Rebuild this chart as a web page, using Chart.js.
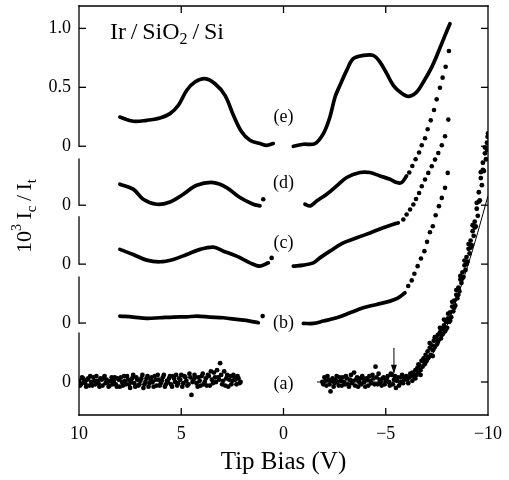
<!DOCTYPE html>
<html><head><meta charset="utf-8">
<script src="https://cdn.jsdelivr.net/npm/chart.js@4/dist/chart.umd.min.js"></script>
<style>html,body{margin:0;padding:0;background:#fff}</style>
</head><body>
<canvas id="c" width="509" height="480"></canvas>
<script>
// ---- data ----
const OFFSET = {a:0, b:0.5, c:1.0, d:1.5, e:2.0};

const eLeftV = [8.0,7.35,6.69,6.04,5.55,5.14,4.73,4.33,3.84,3.35,2.86,2.45,2.04,1.64,1.15,0.82,0.50];
const eLeftY = [0.248,0.212,0.22,0.24,0.277,0.348,0.475,0.545,0.574,0.53,0.432,0.263,0.121,0.051,0.023,0.008,0.023];
const eRightV = [-0.48,-0.97,-1.54,-1.95,-2.27,-2.52,-2.76,-3.09,-3.41,-3.90,-4.39,-4.72,-5.05,-5.37,-5.70,-6.10,-6.51,-6.84,-7.25,-7.57,-7.90,-8.14];
const eRightY = [0,0.017,0.023,0.107,0.248,0.418,0.517,0.644,0.743,0.771,0.771,0.714,0.616,0.517,0.46,0.424,0.46,0.545,0.672,0.8,0.941,1.04];

const dLeftV = [8.0,7.35,6.86,6.20,5.55,4.90,4.24,3.43,2.78,2.13,1.48,1.15];
const dLeftY = [0.178,0.136,0.051,0.008,0.028,0.093,0.169,0.192,0.15,0.065,0.008,-0.006];
const dRightV = [-1.05,-1.30,-1.62,-2.11,-2.60,-3.09,-3.74,-4.23,-4.72,-5.21,-5.54,-5.78,-6.02];
const dRightY = [0.008,-0.006,0.036,0.093,0.164,0.235,0.277,0.277,0.248,0.22,0.192,0.192,0.248];
const dDotsV = [0.99,-6.15,-6.30,-6.46,-6.63,-6.76,-6.92,-7.05,-7.20,-7.36,-7.49,-7.65,-7.78,-7.93,-8.09];
const dDotsY = [0.051,0.277,0.333,0.39,0.447,0.508,0.568,0.644,0.72,0.808,0.898,0.997,1.082,1.175,1.308];

const cLeftV = [8.0,7.35,6.69,6.04,5.39,4.73,4.08,3.43,2.94,2.29,1.64,1.15,0.74];
const cLeftY = [0.125,0.082,0.034,0.02,0.04,0.082,0.125,0.144,0.11,0.068,0.011,-0.017,0.011];
const cRightV = [-0.48,-0.97,-1.46,-1.78,-2.27,-2.92,-3.58,-4.23,-4.88,-5.45,-5.61];
const cRightY = [-0.017,-0.008,0.011,0.053,0.11,0.18,0.223,0.265,0.308,0.342,0.35];
const cDotsV = [0.58,-5.86,-6.02,-6.19,-6.35,-6.48,-6.63,-6.76,-6.92,-7.08,-7.25,-7.41,-7.57,-7.74,-7.90,-8.06];
const cDotsY = [0.053,0.379,0.421,0.464,0.506,0.553,0.604,0.661,0.718,0.774,0.831,0.887,0.943,1.008,1.085,1.226];

const bLeftV = [8.0,7.35,6.69,6.04,5.39,4.73,4.24,3.59,2.94,2.29,1.64,1.23];
const bLeftY = [0.059,0.051,0.04,0.045,0.051,0.053,0.059,0.051,0.045,0.031,0.017,0.003];
const bRightV = [-0.97,-1.46,-1.95,-2.60,-3.25,-3.90,-4.56,-5.21,-5.61,-5.94];
const bRightY = [-0.003,-0.003,0.017,0.045,0.087,0.13,0.158,0.186,0.214,0.257];
const bDotsV = [1.02,-6.10,-6.27,-6.40,-6.56,-6.72,-6.89,-7.02,-7.16,-7.30,-7.44,-7.60,-7.74,-7.90,-8.03];
const bDotsY = [0.059,0.314,0.362,0.418,0.483,0.548,0.61,0.689,0.771,0.822,0.915,0.992,1.062,1.147,1.274];

// (a): noisy scatter, [bias, value]
const aLeft = [[10.0,0.01],[9.9,-0.02],[9.8,0.03],[9.7,-0.01],[9.6,0.02],[9.5,-0.03],[9.4,0.0],[9.3,0.04],[9.2,-0.02],[9.1,0.01],
 [9.0,-0.04],[8.9,0.02],[8.8,0.03],[8.7,-0.01],[8.6,0.0],[8.5,-0.03],[8.4,0.04],[8.3,0.01],[8.2,-0.02],[8.1,0.03],
 [8.0,-0.04],[7.9,0.0],[7.8,0.05],[7.7,-0.02],[7.6,0.02],[7.5,-0.05],[7.4,0.03],[7.3,-0.01],[7.2,0.04],[7.1,-0.03],
 [7.0,0.01],[6.9,0.06],[6.8,-0.02],[6.7,0.03],[6.6,-0.04],[6.5,0.02],[6.4,0.0],[6.3,0.05],[6.2,-0.03],[6.1,0.02],
 [6.0,-0.01],[5.9,0.04],[5.8,-0.04],[5.7,0.01],[5.6,0.03],[5.5,-0.02],[5.4,0.05],[5.3,0.0],[5.2,-0.03],[5.1,0.03],
 [5.0,0.06],[4.9,-0.01],[4.8,0.04],[4.7,-0.03],[4.6,0.07],[4.5,-0.11],[4.4,0.02],[4.3,0.04],[4.2,-0.04],[4.1,0.01],
 [4.0,0.05],[3.9,-0.02],[3.8,0.03],[3.7,0.06],[3.6,-0.03],[3.5,0.02],[3.4,0.08],[3.3,0.0],[3.2,0.04],[3.1,0.16],
 [3.0,-0.02],[2.9,0.09],[2.8,0.03],[2.7,-0.04],[2.6,0.05],[2.5,0.01],[2.4,0.04],[2.3,-0.02],[2.2,0.03],[2.1,0.0]];
const aLeftB = [[9.95,-0.03],[9.85,0.04],[9.75,0.0],[9.65,-0.04],[9.55,0.03],[9.45,0.05],[9.35,-0.03],[9.25,0.01],[9.15,0.05],[9.05,-0.01],
 [8.95,0.03],[8.85,-0.03],[8.75,0.05],[8.65,0.02],[8.55,-0.04],[8.45,0.01],[8.35,-0.02],[8.25,0.04],[8.15,-0.04],[8.05,0.02],
 [7.95,0.04],[7.85,-0.03],[7.75,0.01],[7.65,0.05],[7.55,-0.02],[7.45,0.0],[7.35,0.06],[7.25,-0.04],[7.15,0.02],[7.05,-0.02],
 [6.95,0.03],[6.85,-0.05],[6.75,0.0],[6.65,0.05],[6.55,-0.01],[6.45,0.04],[6.35,-0.04],[6.25,0.02],[6.15,0.06],[6.05,-0.03],
 [5.95,0.01],[5.85,0.06],[5.75,-0.02],[5.65,0.0],[5.55,0.05],[5.45,-0.04],[5.35,0.03],[5.25,0.06],[5.15,-0.01],[5.05,0.02],
 [4.95,-0.04],[4.85,0.05],[4.75,0.01],[4.65,-0.02],[4.55,0.04],[4.45,0.0],[4.35,0.06],[4.25,-0.01],[4.15,0.04],[4.05,-0.03],
 [3.95,0.07],[3.85,0.0],[3.75,-0.03],[3.65,0.05],[3.55,0.09],[3.45,-0.01],[3.35,0.04],[3.25,0.1],[3.15,0.02],[3.05,0.06],
 [2.95,0.01],[2.85,-0.03],[2.75,0.06],[2.65,0.02],[2.55,-0.02],[2.45,0.06],[2.35,0.02],[2.25,0.05],[2.15,-0.01]];
const aRight = [[-1.9,0.0],[-2.0,0.04],[-2.1,-0.03],[-2.2,0.02],[-2.3,-0.08],[-2.4,0.03],[-2.5,-0.01],[-2.6,0.05],[-2.7,-0.03],[-2.8,0.01],
 [-2.9,0.04],[-3.0,-0.02],[-3.1,0.03],[-3.2,-0.04],[-3.3,0.06],[-3.4,0.01],[-3.5,-0.03],[-3.6,0.04],[-3.7,0.0],[-3.8,-0.02],
 [-3.9,0.03],[-4.0,-0.04],[-4.1,0.02],[-4.2,0.05],[-4.3,-0.01],[-4.4,0.03],[-4.5,0.13],[-4.6,-0.02],[-4.7,0.02],[-4.8,-0.03],
 [-4.9,0.04],[-5.0,0.01],[-5.1,0.05],[-5.2,-0.03],[-5.3,0.06],[-5.4,0.02],[-5.5,-0.05],[-5.6,0.04],[-5.7,0.0],[-5.8,0.06],
 [-5.9,0.02],[-6.0,0.05],[-6.1,-0.01],[-6.2,0.07],
 [-6.25,0.05],[-6.3,0.01],[-6.35,0.07],[-6.4,0.04],[-6.45,0.1],[-6.5,0.06],[-6.55,0.12],[-6.6,0.08],[-6.65,0.14],[-6.7,0.1],
 [-6.75,0.18],[-6.8,0.13],[-6.85,0.2],[-6.9,0.15],[-6.95,0.23],[-7.0,0.18],[-7.05,0.26],[-7.1,0.21],[-7.15,0.29],[-7.2,0.23],
 [-7.25,0.31],[-7.3,0.27],[-7.35,0.35],[-7.4,0.3],[-7.45,0.37],[-7.5,0.32],[-7.55,0.4],[-7.6,0.36],[-7.65,0.42],[-7.7,0.37],
 [-7.75,0.45],[-7.8,0.41],[-7.85,0.48],[-7.9,0.43],[-7.95,0.51],[-8.0,0.46],[-8.05,0.54],[-8.1,0.51],[-8.15,0.59],[-8.2,0.55],
 [-8.25,0.64],[-8.3,0.6],[-8.35,0.69],[-8.4,0.65],[-8.45,0.74],[-8.5,0.71],[-8.55,0.8],[-8.6,0.77],[-8.65,0.87],[-8.7,0.84],
 [-8.75,0.93],[-8.8,0.89],[-8.85,0.99],[-8.9,0.95],[-8.95,1.06],[-9.0,1.02],[-9.05,1.13],[-9.1,1.09],[-9.15,1.2],[-9.2,1.16],
 [-9.25,1.28],[-9.3,1.24],[-9.35,1.36],[-9.4,1.32],[-9.45,1.47],[-9.5,1.41],[-9.55,1.61],[-9.6,1.54],[-9.65,1.73],[-9.7,1.67],
 [-9.75,1.86],[-9.8,1.79],[-9.85,1.94],[-9.9,1.89],[-9.95,2.03],[-10.0,2.11]];
const aRightB = [[-1.95,-0.02],[-2.05,0.01],[-2.15,0.05],[-2.25,-0.02],[-2.35,0.01],[-2.45,-0.04],[-2.55,0.02],[-2.65,0.0],[-2.75,0.04],[-2.85,-0.03],
 [-2.95,0.0],[-3.05,0.05],[-3.15,-0.02],[-3.25,0.02],[-3.35,-0.01],[-3.45,0.08],[-3.55,0.02],[-3.65,-0.04],[-3.75,0.03],[-3.85,0.05],
 [-3.95,0.0],[-4.05,0.03],[-4.15,-0.03],[-4.25,0.01],[-4.35,0.06],[-4.45,-0.02],[-4.55,0.04],[-4.65,0.07],[-4.75,0.0],[-4.85,0.03],
 [-4.95,-0.02],[-5.05,0.03],[-5.15,0.0],[-5.25,0.07],[-5.35,-0.02],[-5.45,0.05],[-5.55,0.01],[-5.65,-0.03],[-5.75,0.04],[-5.85,-0.01],
 [-5.95,0.03],[-6.05,0.02],[-6.15,0.04],
 [-6.3,0.08],[-6.45,0.03],[-6.6,0.15],[-6.7,0.06],[-6.8,0.18],[-6.95,0.17],[-7.05,0.2],[-7.15,0.33],[-7.3,0.22],[-7.4,0.38],
 [-7.55,0.34],[-7.65,0.46],[-7.75,0.4],[-7.85,0.53],[-7.95,0.45],[-8.05,0.58],[-8.15,0.52],[-8.25,0.68],[-8.35,0.63],[-8.45,0.78],
 [-8.55,0.74],[-8.65,0.9],[-8.75,0.88],[-8.85,1.03],[-8.95,1.0],[-9.05,1.17],[-9.15,1.14],[-9.25,1.33],[-9.35,1.31],[-9.45,1.52],
 [-9.55,1.53],[-9.65,1.78],[-9.75,1.8],[-9.85,1.99],[-9.95,1.97],[-9.98,2.08]];

const fitV = [-1.64,-5.4,-6.0,-6.5,-7.0,-7.5,-8.0,-8.5,-9.0,-9.5,-10.0];
const fitY = [0,0,0.02,0.07,0.16,0.3,0.48,0.72,0.98,1.27,1.58];

const xTickValues = [10,5,0,-5,-10];
const xTickLabels = ['10','5','0','\u22125','\u221210'];
const yTickValues = [0,0.5,1.0,1.5,2.0,2.5,3.0];
const yTickLabels = ['0','0','0','0','0','0.5','1.0'];
const curveLabels = [['(e)',0,2.246],['(d)',0,1.686],['(c)',0,1.178],['(b)',0,0.5],['(a)',0,-0.017]];
const leftAxisSegments = [[2.0,3.19],[1.5,1.89],[1.0,1.40],[0.5,0.89],[-0.28,0.415]];
const arrow = {x:-5.4, from:0.29, to:0.07};

// ---- build datasets ----
const pts = (xs, ys, off) => xs.map((v,i)=>({x:v, y:ys[i]+off}));
const pairs = (arr, off) => arr.map(p=>({x:p[0], y:p[1]+off}));
const lineDs = (data) => ({data, showLine:true, borderColor:'#000', borderWidth:3.7, pointRadius:0, tension:0.35, fill:false, borderCapStyle:'round', borderJoinStyle:'round'});
const dotDs = (data, r) => ({data, showLine:false, backgroundColor:'#000', borderColor:'#000', pointRadius:r||2.3, borderWidth:0});

const datasets = [
  lineDs(pts(eLeftV,eLeftY,OFFSET.e)), lineDs(pts(eRightV,eRightY,OFFSET.e)),
  lineDs(pts(dLeftV,dLeftY,OFFSET.d)), lineDs(pts(dRightV,dRightY,OFFSET.d)), dotDs(pts(dDotsV,dDotsY,OFFSET.d)),
  lineDs(pts(cLeftV,cLeftY,OFFSET.c)), lineDs(pts(cRightV,cRightY,OFFSET.c)), dotDs(pts(cDotsV,cDotsY,OFFSET.c)),
  lineDs(pts(bLeftV,bLeftY,OFFSET.b)), lineDs(pts(bRightV,bRightY,OFFSET.b)), dotDs(pts(bDotsV,bDotsY,OFFSET.b)),
  dotDs(pairs(aLeft,OFFSET.a),2.4), dotDs(pairs(aLeftB,OFFSET.a),2.4),
  dotDs(pairs(aRight,OFFSET.a),2.4), dotDs(pairs(aRightB,OFFSET.a),2.4),
  {data:pts(fitV,fitY,OFFSET.a), showLine:true, borderColor:'#000', borderWidth:1, pointRadius:0, cubicInterpolationMode:'monotone'}
];

const SERIF = "'Liberation Serif','DejaVu Serif',serif";

const decor = {
  id:'decor',
  afterDraw(chart){
    const {ctx, chartArea:{left,right,top,bottom}, scales:{x,y}} = chart;
    const ln = (x1,y1,x2,y2)=>{ctx.beginPath();ctx.moveTo(x1,y1);ctx.lineTo(x2,y2);ctx.stroke();};
    ctx.save();
    ctx.strokeStyle='#000'; ctx.lineWidth=1.3; ctx.lineCap='square';
    ln(left,top,right,top); ln(left,bottom,right,bottom); ln(right,top,right,bottom);
    leftAxisSegments.forEach(([a,b])=>ln(left,y.getPixelForValue(a),left,y.getPixelForValue(b)));
    ctx.lineCap='butt';
    yTickValues.forEach(v=>{const py=y.getPixelForValue(v); ln(left,py,left+7,py); ln(right,py,right-7,py);});
    xTickValues.slice(1,-1).forEach(v=>{const px=x.getPixelForValue(v); ln(px,bottom,px,bottom-7); ln(px,top,px,top+7);});
    // arrow
    const ax=x.getPixelForValue(arrow.x), ay1=y.getPixelForValue(arrow.from), ay2=y.getPixelForValue(arrow.to);
    ctx.lineWidth=1; ln(ax,ay1,ax,ay2-1);
    ctx.fillStyle='#000'; ctx.beginPath(); ctx.moveTo(ax,ay2); ctx.lineTo(ax-3,ay2-9); ctx.lineTo(ax+3,ay2-9); ctx.closePath(); ctx.fill();
    // curve labels
    ctx.font='18px '+SERIF; ctx.textAlign='center'; ctx.textBaseline='middle';
    curveLabels.forEach(([t,v,val])=>ctx.fillText(t, x.getPixelForValue(v), y.getPixelForValue(val)));
    // rich text helper
    const rich = (parts, x0, y0) => { let cx=x0; parts.forEach(p=>{ctx.font=p[1]+'px '+SERIF; ctx.fillText(p[0],cx,y0+p[2]); cx+=ctx.measureText(p[0]).width;}); return cx-x0; };
    const width = parts => parts.reduce((s,p)=>{ctx.font=p[1]+'px '+SERIF; return s+ctx.measureText(p[0]).width;},0);
    ctx.textAlign='left'; ctx.textBaseline='alphabetic';
    // title
    rich([['Ir\u2009/\u2009SiO',24,0],['2',16,5],['\u2009/\u2009Si',24,0]], 110, 39);
    // y title
    const yParts=[['10',22,0],['3',14,-10],['\u2009I',22,0],['c',15,5],['\u2009/\u2009I',22,0],['t',15,5]];
    const w=width(yParts);
    ctx.translate(31,216); ctx.rotate(-Math.PI/2);
    rich(yParts,-w/2,0);
    ctx.restore();
  }
};

new Chart(document.getElementById('c'), {
  type:'scatter',
  data:{datasets},
  options:{
    responsive:false, animation:false, devicePixelRatio:1,
    layout:{padding:{top:6,right:21,left:0,bottom:0}},
    plugins:{legend:{display:false}, tooltip:{enabled:false}},
    scales:{
      x:{type:'linear', min:-10, max:10, reverse:true,
         afterBuildTicks:s=>{s.ticks=xTickValues.map(v=>({value:v}));},
         afterFit:s=>{s.height=65; s.paddingLeft=0; s.paddingRight=0;},
         grid:{display:false, drawTicks:false}, border:{display:false},
         ticks:{color:'#000', padding:8, maxRotation:0, autoSkip:false, font:{family:SERIF,size:18},
                callback:(v,i)=>xTickLabels[i]},
         title:{display:true, text:'Tip Bias (V)', color:'#000', font:{family:SERIF,size:25}, padding:{top:0,bottom:3}}},
      y:{type:'linear', min:-0.28, max:3.19,
         afterBuildTicks:s=>{s.ticks=yTickValues.map(v=>({value:v}));},
         afterFit:s=>{s.width=79; s.paddingTop=0; s.paddingBottom=0;},
         grid:{display:false, drawTicks:false}, border:{display:false},
         ticks:{color:'#000', padding:8, autoSkip:false, font:{family:SERIF,size:18},
                callback:(v,i)=>yTickLabels[i]}}
    }
  },
  plugins:[decor]
});
</script>
</body></html>
